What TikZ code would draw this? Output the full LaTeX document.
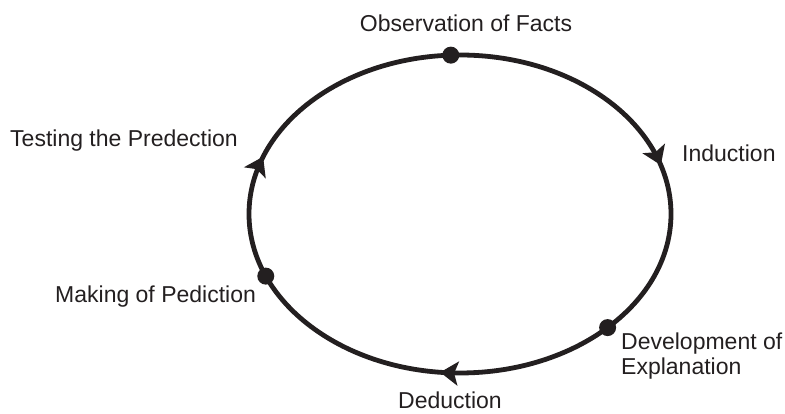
\documentclass[tikz,border=0pt]{standalone}
\usepackage{fontspec}
\setmainfont{Liberation Sans}
\usetikzlibrary{arrows.meta,decorations.markings,calc}
\definecolor{ink}{HTML}{231F20}
\begin{document}
\begin{tikzpicture}[x=1pt,y=1pt,
  lbl/.style={inner sep=0pt,text=ink,font=\fontsize{23}{25}\selectfont},
  dotnode/.style={circle,fill=ink,inner sep=0pt,minimum size=17pt},
  cyc/.style={draw=ink,line width=4.8pt,
    postaction={decorate},
    decoration={markings,
      mark=at position 0.043 with {\arrowreversed[ink]{Stealth[length=18pt,width=24pt,inset=4pt]}},
      mark=at position 0.449 with {\arrowreversed[ink]{Stealth[length=18pt,width=24pt,inset=4pt]}},
      mark=at position 0.733 with {\arrowreversed[ink]{Stealth[length=18pt,width=24pt,inset=4pt]}}}}]
\useasboundingbox (0,0) rectangle (785,414);
\coordinate (C) at (460,200);
\path[cyc] (C) ellipse [x radius=211, y radius=159];
\node[dotnode] (obs) at ($(C)+(92.5:211 and 159)$) {};
\node[dotnode] (dev) at ($(C)+(314.4:211 and 159)$) {};
\node[dotnode] (mak) at ($(C)+(203:211 and 159)$) {};
\node[lbl,anchor=base] (tobs) at (466,382) {Observation of Facts};
\node[lbl,anchor=base west] (tind) at (682,252) {Induction};
\node[lbl,anchor=base west] (ttest) at (10,267) {Testing the Predection};
\node[lbl,anchor=base west] (tmak) at (55,111) {Making of Pediction};
\node[lbl,anchor=base west] (tdev1) at (621,64) {Development of};
\node[lbl,anchor=base west] (tdev2) at (621,39) {Explanation};
\node[lbl,anchor=base west] (tded) at (398,5) {Deduction};
\end{tikzpicture}
\end{document}
